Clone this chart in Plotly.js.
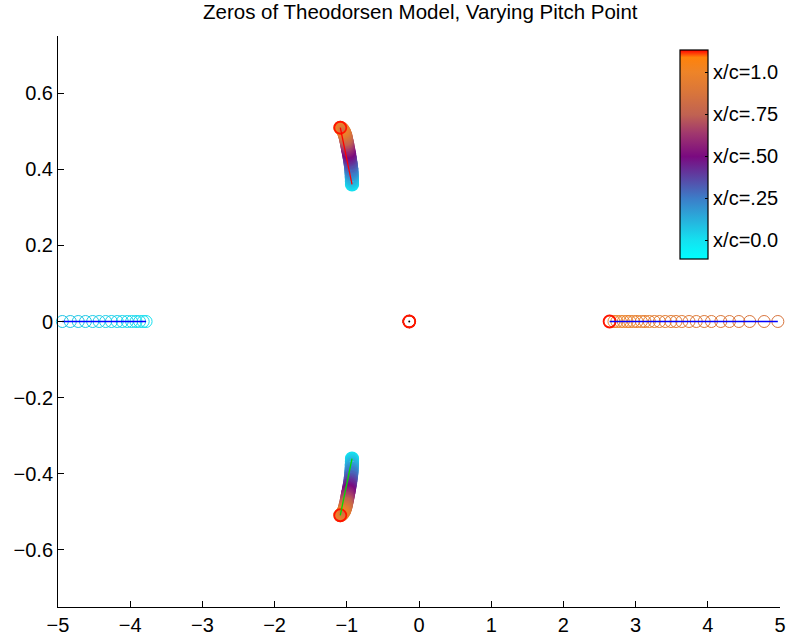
<!DOCTYPE html>
<html>
<head>
<meta charset="utf-8">
<script src="https://cdn.plot.ly/plotly-3.0.1.min.js"></script>
<style>
  html, body { margin: 0; padding: 0; background: #fff; }
  #chart { width: 787px; height: 642px; }
</style>
</head>
<body>
<div id="chart"></div>
<script>
// Pitch point positions (x/c) and the zeros they produce.

// Real zero heading to -infinity for small x/c
const pitchLeft = [0.000, 0.005, 0.010, 0.015, 0.020, 0.025, 0.030, 0.035,
                   0.040, 0.045, 0.050, 0.055, 0.060, 0.065, 0.070, 0.075];
const zeroLeft  = [-3.78, -3.82, -3.87, -3.92, -3.98, -4.04, -4.11, -4.18,
                   -4.26, -4.34, -4.43, -4.52, -4.62, -4.72, -4.83, -4.94];

// Real zero coming back from +infinity for large x/c
const pitchRight = [0.865, 0.870, 0.875, 0.880, 0.885, 0.890, 0.895, 0.900, 0.905, 0.910, 0.915, 0.920, 0.925, 0.930,
                    0.935, 0.940, 0.945, 0.950, 0.955, 0.960, 0.965, 0.970, 0.975, 0.980, 0.985, 0.990, 0.995, 1.000];
const zeroRight  = [4.97, 4.78, 4.58, 4.43, 4.30, 4.18, 4.05, 3.95, 3.84, 3.74, 3.64, 3.56, 3.49, 3.41,
                    3.33, 3.26, 3.19, 3.13, 3.08, 3.02, 2.97, 2.92, 2.88, 2.83, 2.79, 2.74, 2.70, 2.64];

// Complex zero pair (upper member listed; lower is its conjugate)
const pitchArc = [0.000, 0.025, 0.050, 0.075, 0.100, 0.125, 0.150, 0.175, 0.200, 0.225,
                  0.250, 0.275, 0.300, 0.325, 0.350, 0.375, 0.400, 0.425, 0.450, 0.475,
                  0.500, 0.525, 0.550, 0.575, 0.600, 0.625, 0.650, 0.675, 0.700, 0.725,
                  0.750, 0.775, 0.800, 0.825, 0.850, 0.875, 0.900, 0.925, 0.950, 0.975, 1.000];
const arcRe = [-0.928, -0.928, -0.929, -0.929, -0.930, -0.931, -0.932, -0.933, -0.935, -0.936,
               -0.938, -0.941, -0.944, -0.947, -0.951, -0.954, -0.958, -0.962, -0.966, -0.970,
               -0.975, -0.978, -0.982, -0.985, -0.989, -0.992, -0.996, -1.000, -1.003, -1.007,
               -1.011, -1.015, -1.019, -1.023, -1.028, -1.033, -1.039, -1.046, -1.055, -1.068, -1.090];
const arcIm = [0.360, 0.364, 0.368, 0.372, 0.376, 0.380, 0.385, 0.389, 0.393, 0.397,
               0.401, 0.406, 0.410, 0.415, 0.419, 0.424, 0.428, 0.432, 0.437, 0.441,
               0.445, 0.449, 0.452, 0.456, 0.459, 0.463, 0.466, 0.470, 0.473, 0.477,
               0.480, 0.483, 0.486, 0.489, 0.492, 0.495, 0.498, 0.500, 0.503, 0.506, 0.509];

// Zero that does not move with the pitch point
const fixedZero = [-0.135];

// Colour bar labels
const barVals = [0.0, 0.25, 0.5, 0.75, 1.0];
const barText = ['x/c=0.0', 'x/c=.25', 'x/c=.50', 'x/c=.75', 'x/c=1.0'];

const cmin = -0.112, cmax = 1.13;
const pitchScale = [
  [0.00, 'rgb(0,255,255)'],
  [0.09, 'rgb(20,225,240)'],
  [0.29, 'rgb(60,125,200)'],
  [0.49, 'rgb(122,10,128)'],
  [0.60, 'rgb(160,55,110)'],
  [0.69, 'rgb(192,98,82)'],
  [0.80, 'rgb(218,118,58)'],
  [0.895, 'rgb(238,132,40)'],
  [0.965, 'rgb(255,130,10)'],
  [1.00, 'rgb(255,0,0)']
];

const conj = arr => arr.map(v => -v);
const last = arr => arr[arr.length - 1];

function ringTrace(x, y, c, lw, showBar) {
  const t = {
    type: 'scatter', mode: 'markers', x: x, y: y, cliponaxis: false,
    hoverinfo: 'skip', showlegend: false,
    marker: {
      symbol: 'circle-open', size: 12, line: { width: lw },
      color: c, colorscale: pitchScale, cmin: cmin, cmax: cmax, showscale: !!showBar
    }
  };
  if (showBar) {
    t.marker.colorbar = {
      x: 0.86, xanchor: 'left', xref: 'paper', xpad: 0,
      y: 0.975, yanchor: 'top', yref: 'paper', ypad: 0,
      len: 0.366, lenmode: 'fraction', thickness: 28,
      outlinewidth: 1.2, outlinecolor: '#000',
      tickmode: 'array', tickvals: barVals, ticktext: barText,
      ticks: 'inside', ticklen: 3, tickcolor: '#000',
      tickfont: { family: 'Liberation Sans, Arial, sans-serif', size: 20, color: '#000' }
    };
  }
  return t;
}

function lineTrace(x, y, col) {
  return {
    type: 'scatter', mode: 'lines', x: x, y: y, cliponaxis: true,
    hoverinfo: 'skip', showlegend: false,
    line: { color: col, width: 1.3 }
  };
}

const fixedX = pitchArc.map(() => fixedZero[0]);
const fixedY = pitchArc.map(() => 0);

const traces = [
  ringTrace(zeroLeft, zeroLeft.map(() => 0), pitchLeft, 1, true),
  ringTrace(zeroRight, zeroRight.map(() => 0), pitchRight, 1, false),
  ringTrace(arcRe, arcIm, pitchArc, 2.2, false),
  ringTrace(arcRe, conj(arcIm), pitchArc, 2.2, false),
  ringTrace(fixedX, fixedY, pitchArc, 1, false),
  // x/c = 1.0 zeros marked in red
  {
    type: 'scatter', mode: 'markers', cliponaxis: false, hoverinfo: 'skip', showlegend: false,
    x: [last(arcRe), last(arcRe), last(zeroRight), fixedZero[0]],
    y: [last(arcIm), -last(arcIm), 0, 0],
    marker: { symbol: 'circle-open', size: 12, color: 'rgb(255,20,0)', line: { width: 1.8 } }
  },
  // trajectories
  lineTrace(zeroLeft, zeroLeft.map(() => 0), 'rgb(0,0,255)'),
  lineTrace(zeroRight, zeroRight.map(() => 0), 'rgb(0,0,255)'),
  lineTrace([arcRe[0], last(arcRe)], [arcIm[0], last(arcIm)], 'rgb(255,0,0)'),
  lineTrace([arcRe[0], last(arcRe)], [-arcIm[0], -last(arcIm)], 'rgb(0,220,0)'),
  {
    type: 'scatter', mode: 'markers', hoverinfo: 'skip', showlegend: false,
    x: [fixedZero[0]], y: [0],
    marker: { symbol: 'circle', size: 2, color: '#000' }
  }
];

const axisFont = { family: 'Liberation Sans, Arial, sans-serif', size: 20, color: '#000' };

const layout = {
  width: 787, height: 642,
  paper_bgcolor: '#fff', plot_bgcolor: '#fff',
  margin: { l: 58, r: 6, t: 36, b: 35 },
  title: {
    text: 'Zeros of Theodorsen Model, Varying Pitch Point',
    font: { family: 'Liberation Sans, Arial, sans-serif', size: 20.5, color: '#000' },
    x: 0.534, xanchor: 'center', y: 0.981, yanchor: 'middle'
  },
  xaxis: {
    range: [-5, 5], tickmode: 'array', tickvals: [-5, -4, -3, -2, -1, 0, 1, 2, 3, 4, 5],
    ticks: 'inside', ticklen: 6, tickcolor: '#000', tickfont: axisFont,
    showline: true, linecolor: '#000', linewidth: 1, showgrid: false, zeroline: false,
    mirror: false
  },
  yaxis: {
    range: [-0.75, 0.75], tickmode: 'array', tickvals: [-0.6, -0.4, -0.2, 0, 0.2, 0.4, 0.6],
    ticktext: ['\u22120.6', '\u22120.4', '\u22120.2', '0', '0.2', '0.4', '0.6'],
    ticks: 'inside', ticklen: 6, tickcolor: '#000', tickfont: axisFont,
    showline: true, linecolor: '#000', linewidth: 1, showgrid: false, zeroline: false,
    mirror: false
  }
};

Plotly.newPlot('chart', traces, layout, { staticPlot: true, displayModeBar: false });
</script>
</body>
</html>
